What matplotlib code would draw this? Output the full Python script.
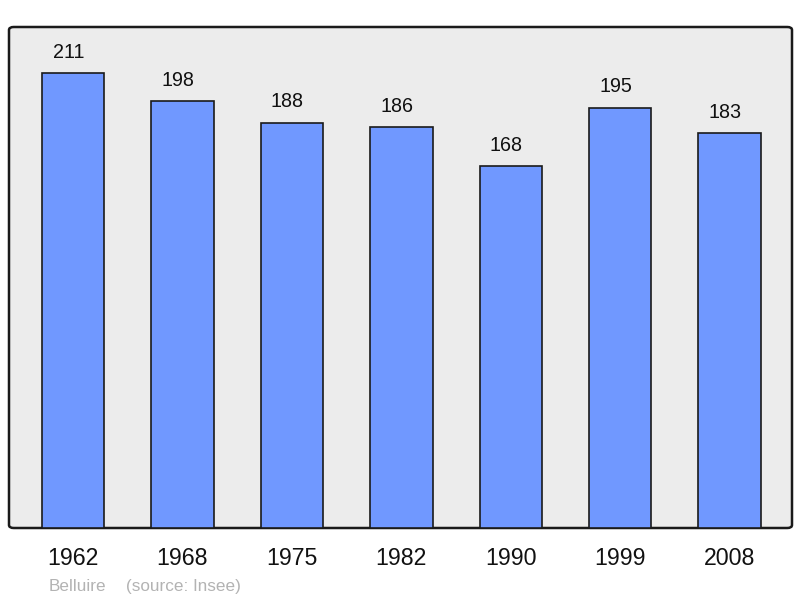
import matplotlib
matplotlib.use("Agg")
import matplotlib.pyplot as plt
from matplotlib.patches import FancyBboxPatch

years = ["1962", "1968", "1975", "1982", "1990", "1999", "2008"]
population = [211, 198, 188, 186, 168, 195, 183]

plt.rcParams['font.family'] = ['Liberation Sans', 'DejaVu Sans']

fig = plt.figure(figsize=(8, 5.98), dpi=100)
ax = fig.add_axes([9 / 800, 1 - 528 / 598, 783 / 800, 501 / 598])
ax.set_facecolor('none')

# background frame with rounded corners
frame = FancyBboxPatch((0, 0), 1, 1, boxstyle="round,pad=0,rounding_size=0.006",
                       transform=ax.transAxes, facecolor='#ececec',
                       edgecolor='#1a1a1a', linewidth=1.8, zorder=0, clip_on=False)
ax.add_patch(frame)

x = range(len(years))
bars = ax.bar(x, population, width=0.57, color='#7098ff', edgecolor='#1a1a1a',
              linewidth=1.2, zorder=2)

# value labels sit a little left of the bar centre in the original
for xi, v in zip(x, population):
    ax.annotate(str(v), (xi, v), xytext=(-3.4, 11), textcoords='offset points',
                ha='center', va='baseline', fontsize=14.2, color='#111111')

ax.set_xlim(-0.585, 6.57)
ax.set_ylim(0, 232.4)
for s in ax.spines.values():
    s.set_visible(False)
ax.set_yticks([])
ax.set_xticks(list(x))
ax.set_xticklabels(years, fontsize=16.7, color='#111111')
ax.tick_params(axis='x', length=0, pad=14)

fig.text(49 / 800, 1 - 591 / 598, "Belluire", fontsize=12.3, color='#b3b3b3',
         ha='left', va='baseline')
fig.text(126 / 800, 1 - 591 / 598, "(source: Insee)", fontsize=12.3, color='#b3b3b3',
         ha='left', va='baseline')

fig.savefig("out.png", dpi=100)
